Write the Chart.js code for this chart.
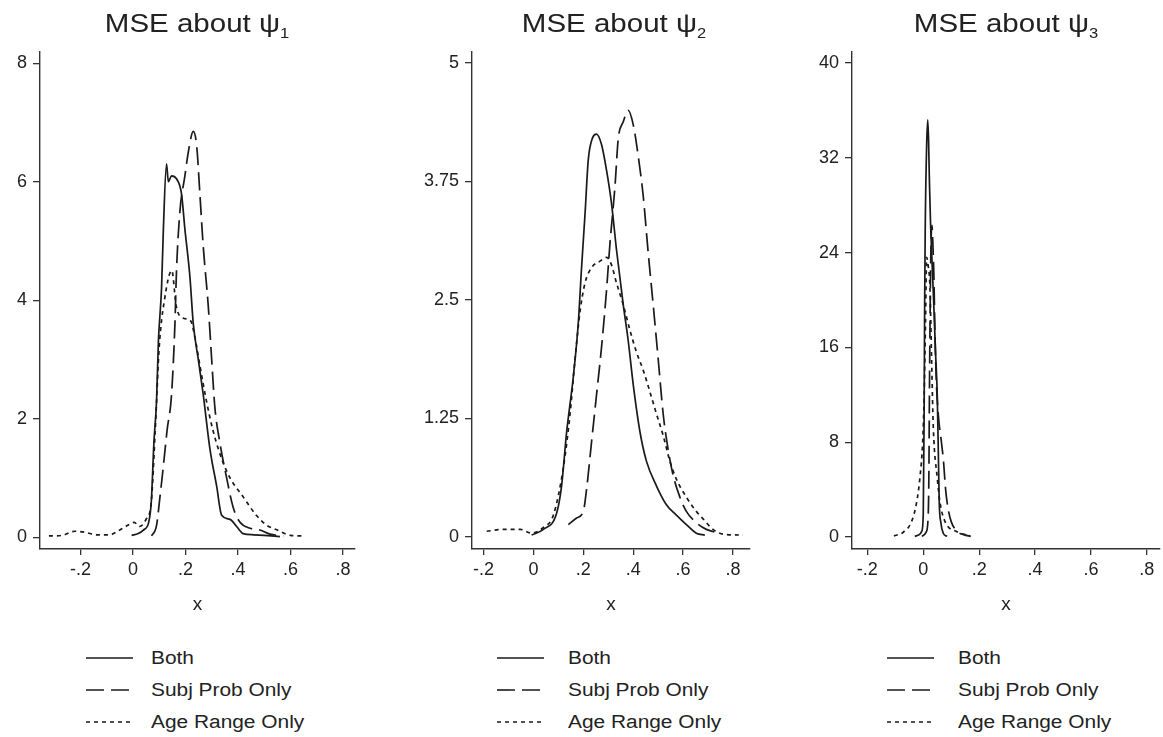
<!DOCTYPE html>
<html><head><meta charset="utf-8">
<script src="https://cdn.jsdelivr.net/npm/chart.js@4.4.0/dist/chart.umd.min.js"></script>
<style>
html,body{margin:0;padding:0;background:#fff;}
body{width:1163px;height:737px;position:relative;overflow:hidden;font-family:"Liberation Sans",Arial,sans-serif;color:#222;}
canvas{position:absolute;top:0;}
.title{position:absolute;top:11px;font-size:25px;line-height:25px;white-space:nowrap;transform:translateX(-50%) scaleX(1.18);}
.title sub{font-size:14px;vertical-align:-6px;line-height:0;}
.row{position:absolute;height:20px;white-space:nowrap;}
.row svg{position:absolute;left:0;top:0;}
.leg{position:absolute;font-size:18px;line-height:20px;white-space:nowrap;transform-origin:left center;transform:scaleX(1.16);}
</style></head><body>
<canvas id="c1" width="380" height="640" style="left:0px"></canvas>
<canvas id="c2" width="380" height="640" style="left:395px"></canvas>
<canvas id="c3" width="378" height="640" style="left:785px"></canvas>
<div id="overlay"></div>
<script>
// ---------- data ----------
const titleText = 'MSE about ψ';
const titleSubs = ['1', '2', '3'];
const seriesNames = ['Both', 'Subj Prob Only', 'Age Range Only'];
const xAxisTitle = 'x';
const xTickVals = [-0.2, 0, 0.2, 0.4, 0.6, 0.8];
const xTickLabels = ['-.2', '0', '.2', '.4', '.6', '.8'];
const p1YTicks = [0, 2, 4, 6, 8];
const p1YLabels = ['0', '2', '4', '6', '8'];
const p2YTicks = [0, 1.25, 2.5, 3.75, 5];
const p2YLabels = ['0', '1.25', '2.5', '3.75', '5'];
const p3YTicks = [0, 8, 16, 24, 32, 40];
const p3YLabels = ['0', '8', '16', '24', '32', '40'];

// Panel 1 (psi 1)
const p1BothX = [-0.005, 0.02, 0.04, 0.06, 0.07, 0.08, 0.09, 0.097, 0.109, 0.116, 0.128, 0.135, 0.147, 0.166, 0.185, 0.198, 0.217, 0.23, 0.249, 0.268, 0.293, 0.319, 0.338, 0.37, 0.395, 0.42, 0.46, 0.5, 0.56];
const p1BothY = [0.03, 0.06, 0.12, 0.25, 0.6, 1.6, 2.3, 3.3, 4.2, 5.2, 6.3, 6.0, 6.1, 6.05, 5.8, 5.2, 4.4, 3.6, 3.0, 2.4, 1.5, 0.86, 0.37, 0.3, 0.18, 0.06, 0.04, 0.03, 0.01];
const p1SubjX = [0.071, 0.09, 0.103, 0.116, 0.13, 0.147, 0.16, 0.166, 0.179, 0.198, 0.211, 0.23, 0.243, 0.255, 0.268, 0.287, 0.3, 0.312, 0.331, 0.357, 0.382, 0.408, 0.446, 0.484, 0.522, 0.573];
const p1SubjY = [0.02, 0.2, 0.68, 1.2, 1.8, 2.4, 3.6, 4.5, 5.5, 6.1, 6.5, 6.85, 6.6, 5.8, 4.9, 3.9, 3.0, 2.2, 1.6, 1.0, 0.5, 0.25, 0.15, 0.12, 0.05, 0.02];
const p1AgeX = [-0.32, -0.27, -0.22, -0.18, -0.14, -0.09, -0.05, -0.02, 0.005, 0.025, 0.05, 0.07, 0.085, 0.1, 0.12, 0.148, 0.165, 0.19, 0.22, 0.235, 0.255, 0.28, 0.305, 0.34, 0.37, 0.42, 0.47, 0.51, 0.55, 0.6, 0.655];
const p1AgeY = [0.02, 0.03, 0.1, 0.08, 0.04, 0.04, 0.12, 0.2, 0.25, 0.18, 0.3, 0.6, 1.8, 3.2, 4.0, 4.5, 3.9, 3.7, 3.65, 3.4, 2.9, 2.3, 1.8, 1.3, 1.0, 0.68, 0.37, 0.2, 0.12, 0.03, 0.02];

// Panel 2 (psi 2)
const p2BothX = [-0.007, 0.04, 0.093, 0.113, 0.133, 0.16, 0.18, 0.193, 0.207, 0.22, 0.237, 0.253, 0.273, 0.293, 0.313, 0.333, 0.36, 0.38, 0.4, 0.427, 0.453, 0.493, 0.533, 0.573, 0.613, 0.653, 0.687];
const p2BothY = [0.02, 0.08, 0.25, 0.54, 1.1, 1.69, 2.26, 2.84, 3.41, 3.98, 4.21, 4.25, 4.14, 3.87, 3.52, 3.03, 2.45, 2.07, 1.61, 1.11, 0.8, 0.54, 0.34, 0.23, 0.13, 0.04, 0.02];
const p2SubjX = [0.14, 0.173, 0.2, 0.213, 0.233, 0.253, 0.273, 0.293, 0.307, 0.327, 0.34, 0.36, 0.38, 0.4, 0.42, 0.44, 0.46, 0.48, 0.5, 0.52, 0.54, 0.56, 0.587, 0.613, 0.653, 0.693, 0.747];
const p2SubjY = [0.13, 0.2, 0.27, 0.5, 1.0, 1.5, 2.0, 2.6, 3.1, 3.7, 4.2, 4.38, 4.5, 4.35, 4.02, 3.6, 3.0, 2.45, 1.88, 1.3, 0.92, 0.65, 0.42, 0.27, 0.15, 0.08, 0.04];
const p2AgeX = [-0.187, -0.12, -0.053, -0.007, 0.04, 0.08, 0.12, 0.147, 0.167, 0.187, 0.207, 0.233, 0.267, 0.293, 0.313, 0.333, 0.36, 0.387, 0.413, 0.44, 0.467, 0.493, 0.52, 0.547, 0.573, 0.613, 0.653, 0.68, 0.72, 0.76, 0.84];
const p2AgeY = [0.06, 0.08, 0.08, 0.04, 0.1, 0.23, 0.73, 1.3, 1.88, 2.38, 2.68, 2.84, 2.91, 2.95, 2.87, 2.68, 2.45, 2.18, 1.95, 1.76, 1.53, 1.3, 1.07, 0.8, 0.61, 0.42, 0.27, 0.19, 0.08, 0.03, 0.02];

// Panel 3 (psi 3)
const p3BothX = [-0.03, -0.015, -0.005, 0.0, 0.003, 0.005, 0.007, 0.012, 0.016, 0.019, 0.022, 0.026, 0.03, 0.037, 0.044, 0.05, 0.054, 0.057, 0.063, 0.072, 0.085];
const p3BothY = [0.05, 0.2, 0.5, 2, 10, 20, 26, 33, 35.2, 33.5, 30, 26.5, 24, 20, 15.5, 12, 7, 3, 1.2, 0.3, 0.05];
const p3SubjX = [-0.005, 0.01, 0.017, 0.02, 0.022, 0.025, 0.028, 0.031, 0.034, 0.038, 0.042, 0.047, 0.055, 0.065, 0.072, 0.08, 0.088, 0.1, 0.12, 0.145, 0.17];
const p3SubjY = [0.05, 0.4, 1.5, 5, 12, 20, 25, 26.3, 25, 22, 17, 13, 10, 8, 6.5, 4, 2.5, 1.3, 0.5, 0.2, 0.05];
const p3AgeX = [-0.105, -0.072, -0.042, -0.024, -0.012, -0.002, 0.003, 0.008, 0.012, 0.017, 0.024, 0.03, 0.036, 0.05, 0.06, 0.078, 0.12, 0.167];
const p3AgeY = [0.1, 0.4, 1.3, 2.9, 5, 8.1, 11.8, 18, 23.6, 23, 21, 14.8, 9.2, 5, 2.9, 1.3, 0.45, 0.1];

// ---------- styling / layout ----------
const FONT = '"Liberation Sans", Arial, sans-serif';
const INK = '#222';
const LINE = '#1a1a1a';
const dashes = [[], [18, 7], [4, 4]];
Chart.defaults.font.family = FONT;
Chart.defaults.color = INK;

const panels = [
  { id: 'c1', yAxisW: 40, padRight: 25, xMin: -0.354, xMax: 0.846, yMin: -0.2, yMax: 8.19,
    yTicks: p1YTicks, yLabels: p1YLabels, series: [[p1BothX, p1BothY], [p1SubjX, p1SubjY], [p1AgeX, p1AgeY]],
    titleCx: 197, legLine: 86, legText: 151 },
  { id: 'c2', yAxisW: 77, padRight: 25, xMin: -0.246, xMax: 0.868, yMin: -0.127, yMax: 5.116,
    yTicks: p2YTicks, yLabels: p2YLabels, series: [[p2BothX, p2BothY], [p2SubjX, p2SubjY], [p2AgeX, p2AgeY]],
    titleCx: 614, legLine: 497, legText: 568 },
  { id: 'c3', yAxisW: 67, padRight: 3, xMin: -0.255, xMax: 0.847, yMin: -1.01, yMax: 40.93,
    yTicks: p3YTicks, yLabels: p3YLabels, series: [[p3BothX, p3BothY], [p3SubjX, p3SubjY], [p3AgeX, p3AgeY]],
    titleCx: 1006, legLine: 887, legText: 958 }
];
const PLOT_TOP = 52, PLOT_BOTTOM = 549, CANVAS_H = 640;
const legendRowsY = [658, 690, 722];

panels.forEach((p, pi) => {
  const datasets = p.series.map((s, si) => ({
    label: seriesNames[si],
    data: s[0].map((x, i) => ({ x: x, y: s[1][i] })),
    borderColor: LINE,
    borderWidth: 1.7,
    borderDash: dashes[si],
    pointRadius: 0,
    fill: false,
    cubicInterpolationMode: 'monotone'
  }));
  new Chart(document.getElementById(p.id), {
    type: 'line',
    data: { datasets: datasets },
    options: {
      responsive: false,
      animation: false,
      events: [],
      layout: { padding: { left: 0, top: PLOT_TOP, right: p.padRight, bottom: 0 } },
      plugins: { legend: { display: false }, tooltip: { enabled: false }, title: { display: false } },
      scales: {
        x: {
          type: 'linear', min: p.xMin, max: p.xMax, bounds: 'data',
          afterBuildTicks: sc => { sc.ticks = xTickVals.map(v => ({ value: v })); },
          afterFit: sc => { sc.height = CANVAS_H - PLOT_BOTTOM; },
          ticks: { callback: v => xTickLabels[xTickVals.indexOf(v)], font: { size: 18 }, color: INK, padding: 4, maxRotation: 0, autoSkip: false },
          grid: { display: true, drawOnChartArea: false, drawTicks: true, tickLength: 6, color: '#333', lineWidth: 1.3 },
          border: { display: true, color: '#333', width: 1.4 },
          title: { display: true, text: xAxisTitle, font: { size: 19 }, color: INK, padding: { top: 0, bottom: 24 } }
        },
        y: {
          type: 'linear', min: p.yMin, max: p.yMax, bounds: 'data',
          afterBuildTicks: sc => { sc.ticks = p.yTicks.map(v => ({ value: v })); },
          afterFit: sc => { sc.width = p.yAxisW; },
          ticks: { callback: v => p.yLabels[p.yTicks.indexOf(v)], font: { size: 18 }, color: INK, padding: 6, autoSkip: false },
          grid: { display: true, drawOnChartArea: false, drawTicks: true, tickLength: 7, color: '#333', lineWidth: 1.3 },
          border: { display: true, color: '#333', width: 1.4 }
        }
      }
    }
  });

  const ov = document.getElementById('overlay');
  // title
  const t = document.createElement('div');
  t.className = 'title';
  t.style.left = p.titleCx + 'px';
  t.appendChild(document.createTextNode(titleText));
  const sub = document.createElement('sub');
  sub.textContent = titleSubs[pi];
  t.appendChild(sub);
  ov.appendChild(t);

  // legend
  seriesNames.forEach((name, si) => {
    const row = document.createElement('div');
    row.className = 'row';
    row.style.left = p.legLine + 'px';
    row.style.top = (legendRowsY[si] - 10) + 'px';
    const dash = dashes[si].length ? ' stroke-dasharray="' + dashes[si].join(',') + '"' : '';
    row.innerHTML = '<svg width="50" height="20"><line x1="0" y1="10" x2="47" y2="10" stroke="' + LINE + '" stroke-width="1.6"' + dash + '/></svg>';
    ov.appendChild(row);
    const sp = document.createElement('div');
    sp.className = 'leg';
    sp.style.left = p.legText + 'px';
    sp.style.top = (legendRowsY[si] - 10) + 'px';
    sp.textContent = name;
    ov.appendChild(sp);
  });
});
</script>
</body></html>
